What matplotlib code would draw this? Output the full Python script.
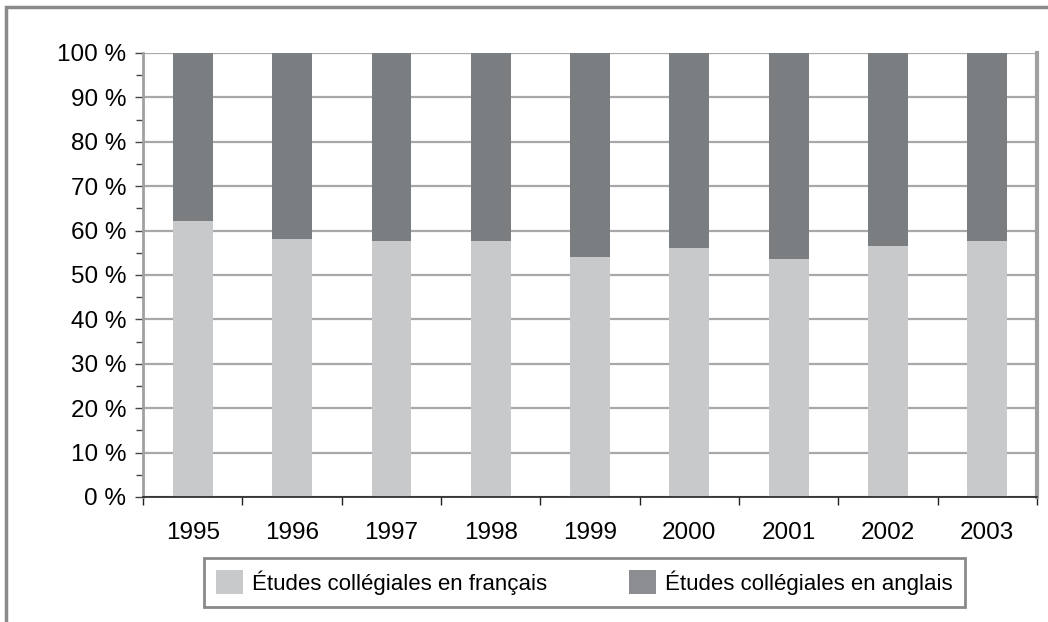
import matplotlib.pyplot as plt
import numpy as np
from matplotlib.patches import Rectangle, Patch
from matplotlib.ticker import MultipleLocator, FuncFormatter

years = ['1995', '1996', '1997', '1998', '1999', '2000', '2001', '2002', '2003']
francais = [62.1, 58.0, 57.6, 57.6, 54.0, 56.0, 53.5, 56.5, 57.6]
anglais = [100 - v for v in francais]
labels = ['Études collégiales en français', 'Études collégiales en anglais']

plt.rcParams['font.family'] = ['Liberation Sans', 'DejaVu Sans']

fig = plt.figure(figsize=(10.48, 6.22), dpi=100)
ax = fig.add_axes([0.1365, 0.201, 0.853, 0.7138])

x = np.arange(len(years))
light = '#c8c9cb'
dark = '#7b7e81'
ax.bar(x, francais, width=0.4, color=light, zorder=3)
ax.bar(x, anglais, width=0.4, bottom=francais, color=dark, zorder=3)

ax.set_xlim(-0.5, len(years) - 0.5)
ax.set_ylim(0, 100)

#horizontal grid behind the bars
ax.yaxis.set_major_locator(MultipleLocator(10))
ax.yaxis.set_minor_locator(MultipleLocator(5))
ax.yaxis.set_major_formatter(FuncFormatter(lambda v, p: '%d %%' % v))
ax.grid(axis='y', color='#a8a8aa', linewidth=1.6, zorder=0)

#x ticks sit between the categories, labels centred under bars
ax.set_xticks(np.arange(-0.5, len(years)), minor=False)
ax.set_xticklabels([''] * (len(years) + 1))
ax.set_xticks(x, minor=True)
ax.set_xticklabels(years, minor=True)
ax.tick_params(axis='x', which='major', direction='out', length=6, width=1, color='#222222')
ax.tick_params(axis='x', which='minor', length=0, pad=18, labelsize=17.5)
ax.tick_params(axis='y', which='major', direction='out', length=6, width=1, color='#444444', pad=6, labelsize=17.5)
ax.tick_params(axis='y', which='minor', direction='out', length=5, width=1, color='#444444')

ax.spines['top'].set_visible(False)
ax.spines['left'].set_color('#a0a0a2')
ax.spines['left'].set_linewidth(2)
ax.spines['right'].set_color('#a0a0a2')
ax.spines['right'].set_linewidth(3)
ax.spines['bottom'].set_color('#222222')
ax.spines['bottom'].set_linewidth(1.2)
ax.spines['bottom'].set_zorder(4)

handles = [Patch(facecolor=light), Patch(facecolor='#8c8d90')]
leg = fig.legend(handles=handles, labels=labels, loc='center', bbox_to_anchor=(0.5577, 0.0635),
                 ncol=2, fontsize=16, fancybox=False, edgecolor='#8a8a8a',
                 handlelength=1.2, handleheight=1.3, columnspacing=3.7, handletextpad=0.4,
                 borderpad=0.55, framealpha=1)
leg.get_frame().set_linewidth(2)

#outer frame, only top and left edges show
fig.patches.append(Rectangle((0.0062, -0.1), 1.2, 1.0888, transform=fig.transFigure,
                             fill=False, edgecolor='#8a8a8a', linewidth=2.5))

plt.savefig('out.png', dpi=100)
